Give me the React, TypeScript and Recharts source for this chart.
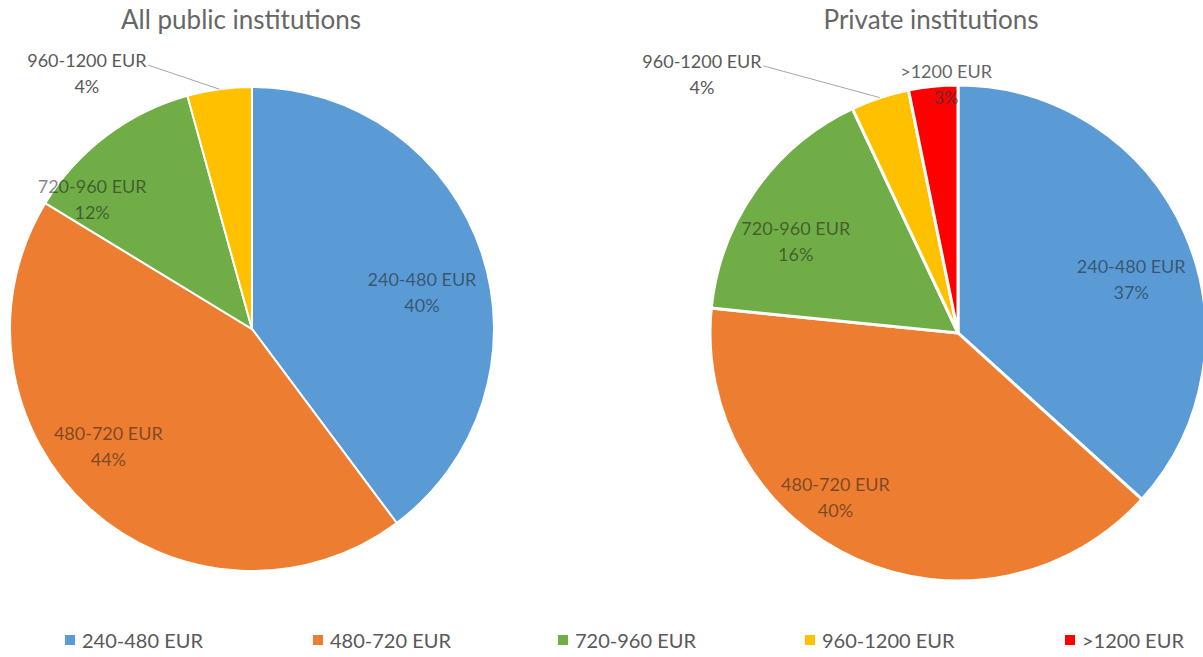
import React from 'react';
import { PieChart, Pie, Cell, Legend } from 'recharts';

const categories = ['240-480 EUR', '480-720 EUR', '720-960 EUR', '960-1200 EUR', '>1200 EUR'];
const publicShares = [39.8, 43.9, 12.0, 4.3];
const privateShares = [36.7, 39.9, 16.4, 3.8, 3.2];
const titles = ['All public institutions', 'Private institutions'];
const colors = ['#5B9BD5', '#ED7D31', '#70AD47', '#FFC000', '#FF0000'];

const publicData = publicShares.map((v, i) => ({ name: categories[i], value: v }));
const privateData = privateShares.map((v, i) => ({ name: categories[i], value: v }));

// label placement (style config): radius factor & angle offset from slice mid-angle
const publicLabelRadius = [0.718, 0.767, 0.849, 1.255];
const publicLabelOffset = [6.4, 8.4, -14, -25.2];
const privateLabelRadius = [0.73, 0.83, 0.75, 1.466, 1.0];
const privateLabelOffset = [7, 12.6, -6, -26.4, 3];

const legendLefts = [65, 313, 558, 805, 1065];

const FONT = 'Lato, "Open Sans", sans-serif';
const RAD = Math.PI / 180;

function makeLabel(factors: number[], offsets: number[]) {
  return (props: any) => {
    const { cx, cy, midAngle, outerRadius, percent, index } = props;
    const name = (props.payload && props.payload.name) || props.name;
    const theta = (90 - midAngle + offsets[index]) * RAD;
    const R = outerRadius * factors[index];
    const x = cx + R * Math.sin(theta);
    const y = cy - R * Math.cos(theta);
    const pct = `${Math.round(percent * 100)}%`;
    const outside = factors[index] > 1.05;
    const edge = factors[index] > 0.95;
    const fs = 18;
    let line = null;
    if (outside) {
      const mid = (90 - midAngle) * RAD;
      const ex = cx + outerRadius * Math.sin(mid);
      const ey = cy - outerRadius * Math.cos(mid);
      const halfW = name.length * fs * 0.27;
      line = (
        <line x1={x + halfW + 3} y1={y - 9} x2={ex} y2={ey} stroke="#a6a6a6" strokeWidth={1} />
      );
    }
    const fill = outside ? '#595959' : edge ? '#3a3a3a' : '#1a1a1a';
    const op = outside ? 1 : edge ? 0.8 : 0.55;
    return (
      <g>
        {line}
        <text x={x} y={y} textAnchor="middle" fontFamily={FONT} fontSize={fs} fill={fill} fillOpacity={op}>
          <tspan x={x} dy={-7}>{name}</tspan>
          <tspan x={x} dy={26}>{pct}</tspan>
        </text>
      </g>
    );
  };
}

const renderLegend = () => (
  <div style={{ position: 'relative', width: 1203, height: 30 }}>
    {categories.map((c, i) => (
      <div
        key={c}
        style={{
          position: 'absolute',
          left: legendLefts[i],
          top: 0,
          display: 'flex',
          alignItems: 'center',
          fontFamily: FONT,
          fontSize: 20,
          color: '#595959',
          whiteSpace: 'nowrap',
        }}
      >
        <span style={{ display: 'inline-block', width: 10, height: 10, background: colors[i], marginRight: 7 }} />
        <span>{c}</span>
      </div>
    ))}
  </div>
);

export default function App() {
  return (
    <div style={{ position: 'absolute', left: 0, top: 0, width: 1203, height: 657, background: '#fff' }}>
      <PieChart width={1203} height={657} margin={{ top: 0, right: 0, bottom: 0, left: 0 }}>
        <text x={241} y={29} textAnchor="middle" fontFamily={FONT} fontSize={26} fill="#666666">
          {titles[0]}
        </text>
        <text x={931} y={29} textAnchor="middle" fontFamily={FONT} fontSize={26} fill="#666666">
          {titles[1]}
        </text>
        <Pie
          data={publicData}
          dataKey="value"
          nameKey="name"
          cx={252}
          cy={329}
          outerRadius={242}
          startAngle={90}
          endAngle={-270}
          stroke="#fff"
          strokeWidth={2}
          isAnimationActive={false}
          labelLine={false}
          label={makeLabel(publicLabelRadius, publicLabelOffset)}
        >
          {publicData.map((d, i) => (
            <Cell key={d.name} fill={colors[i]} />
          ))}
        </Pie>
        <Pie
          data={privateData}
          dataKey="value"
          nameKey="name"
          cx={958}
          cy={333}
          outerRadius={248}
          startAngle={90}
          endAngle={-270}
          stroke="#fff"
          strokeWidth={3}
          isAnimationActive={false}
          labelLine={false}
          label={makeLabel(privateLabelRadius, privateLabelOffset)}
        >
          {privateData.map((d, i) => (
            <Cell key={d.name} fill={colors[i]} />
          ))}
        </Pie>
        <Legend
          content={renderLegend}
          wrapperStyle={{ position: 'absolute', left: 0, top: 628, width: 1203, height: 30, bottom: 'auto' }}
        />
      </PieChart>
    </div>
  );
}
